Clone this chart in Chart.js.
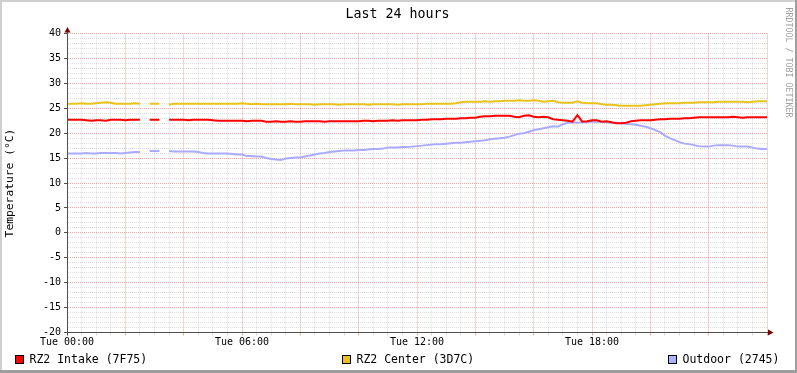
<!DOCTYPE html>
<html>
<head>
<meta charset="utf-8">
<script src="https://cdn.jsdelivr.net/npm/chart.js@4.4.1/dist/chart.umd.min.js"></script>
<style>
    html, body { margin: 0; padding: 0; background: #fff; }
    #wrap { width: 797px; height: 373px; }
</style>
</head>
<body>
<div id="wrap"><canvas id="tempChart" width="797" height="373"></canvas></div>
<script>
// 10-minute samples, Tue 00:00 .. Tue 24:00 (null = no data)
const intake = [
    22.7, 22.7, 22.7, 22.7, 22.6, 22.5, 22.6, 22.6, 22.5, 22.7, 22.7, 22.7, 22.6, 22.7, 22.7, 22.7,
    null, 22.7, 22.7, 22.7, null,
    22.7, 22.7, 22.7, 22.7, 22.6, 22.7, 22.7, 22.7, 22.7, 22.6,
    22.5, 22.5, 22.5, 22.5, 22.5, 22.5, 22.4, 22.5, 22.5, 22.5,
    22.3, 22.3, 22.4, 22.3, 22.3, 22.4, 22.3, 22.3,
    22.4, 22.4, 22.4, 22.4, 22.3, 22.4, 22.4, 22.4, 22.4, 22.4, 22.4, 22.4,
    22.5, 22.5, 22.4, 22.5, 22.5, 22.5, 22.6, 22.5, 22.6, 22.6, 22.6,
    22.6, 22.7, 22.7, 22.8, 22.8, 22.8, 22.9, 22.9, 22.9, 23.0, 23.0, 23.1, 23.1, 23.3, 23.4, 23.4, 23.5, 23.5, 23.5, 23.5,
    23.3, 23.2, 23.5, 23.6, 23.3, 23.2, 23.3, 23.2, 22.8, 22.7, 22.6, 22.5, 22.3,
    23.6,
    22.3, 22.4, 22.6, 22.6, 22.3, 22.4, 22.2, 22.0, 22.0, 22.1, 22.4, 22.5, 22.6, 22.6, 22.6, 22.7, 22.8, 22.8, 22.9, 22.9, 22.9, 23.0, 23.0,
    23.1, 23.2, 23.2, 23.2, 23.2, 23.2, 23.2, 23.2, 23.3, 23.2, 23.1, 23.2, 23.2, 23.2, 23.2, 23.2
];
const center = [
    25.9, 25.9, 25.9, 26.0, 25.9, 25.9, 26.0, 26.1, 26.2, 26.1, 25.9, 25.9, 25.9, 25.9, 26.0, 25.9,
    null, 25.9, 25.9, 25.9, null,
    25.7, 25.9, 25.9, 25.9, 25.9, 25.9, 25.9, 25.9, 25.9, 25.9,
    25.9, 25.9, 25.9, 25.9, 25.9, 26.0, 25.9, 25.8, 25.9, 25.8,
    25.8, 25.8, 25.8, 25.8, 25.8, 25.9, 25.8, 25.8,
    25.8, 25.8, 25.7, 25.8, 25.8, 25.8, 25.8, 25.7, 25.8, 25.8, 25.8, 25.8,
    25.8, 25.7, 25.8, 25.8, 25.8, 25.8, 25.8, 25.7, 25.8, 25.8, 25.8,
    25.8, 25.8, 25.9, 25.9, 25.9, 25.9, 25.9, 25.9, 26.0, 26.2, 26.3, 26.3, 26.3, 26.3, 26.4, 26.3, 26.4, 26.4, 26.5, 26.5,
    26.5, 26.6, 26.5, 26.5, 26.6, 26.5, 26.3, 26.4, 26.5, 26.2, 26.1, 26.1, 26.1,
    26.4,
    26.1, 26.0, 26.0, 26.0, 25.8, 25.7, 25.7, 25.6, 25.5, 25.5, 25.5, 25.5, 25.5, 25.6, 25.7, 25.8, 25.9, 26.0, 26.0, 26.0, 26.0, 26.1, 26.1,
    26.1, 26.2, 26.2, 26.2, 26.2, 26.3, 26.3, 26.3, 26.3, 26.3, 26.3, 26.2, 26.3, 26.4, 26.4, 26.4
];
const outdoor = [
    15.9, 15.9, 15.9, 15.9, 16.0, 15.9, 15.9, 16.0, 16.0, 16.0, 16.0, 15.9, 16.0, 16.1, 16.2, 16.2,
    null, 16.4, 16.4, 16.4, null,
    16.4, 16.3, 16.3, 16.3, 16.3, 16.3, 16.2, 16.0, 15.9, 15.9,
    15.9, 15.9, 15.9, 15.8, 15.7, 15.7, 15.4, 15.4, 15.3, 15.3,
    15.0, 14.8, 14.7, 14.6, 14.9, 15.0, 15.1, 15.1,
    15.3, 15.5, 15.7, 15.9, 16.0, 16.2, 16.3, 16.4, 16.5, 16.5, 16.5, 16.6,
    16.6, 16.7, 16.8, 16.8, 16.9, 17.1, 17.1, 17.1, 17.2, 17.2, 17.3,
    17.4, 17.5, 17.6, 17.7, 17.8, 17.8, 17.9, 18.0, 18.1, 18.1, 18.2, 18.3, 18.4, 18.5, 18.6, 18.8, 18.9, 19.0, 19.1, 19.3,
    19.6, 19.9, 20.0, 20.3, 20.6, 20.8, 21.0, 21.2, 21.4, 21.3, 21.8, 22.1, 22.2,
    22.1,
    22.2, 22.2, 22.3, 22.3, 22.3, 22.2, 22.1, 22.1, 22.0, 21.9, 21.8, 21.7, 21.5, 21.3, 21.0, 20.6, 20.2, 19.5, 19.0, 18.6, 18.2, 17.9, 17.8,
    17.6, 17.4, 17.3, 17.3, 17.5, 17.6, 17.6, 17.6, 17.5, 17.3, 17.3, 17.3, 17.1, 16.9, 16.8, 16.8
];
const seriesNames = ['RZ2 Intake (7F75)', 'RZ2 Center (3D7C)', 'Outdoor (2745)'];
const tickHours = [0, 6, 12, 18];
const tickLabels = ['Tue 00:00', 'Tue 06:00', 'Tue 12:00', 'Tue 18:00'];

const FONT = '"DejaVu Sans Mono", monospace';
const AXIS_COLOR = '#505050';
const GRID_MINOR = 'rgba(140,140,140,0.3)';
const GRID_MAJOR = 'rgba(222,80,80,0.5)';
const NONE = 'rgba(0,0,0,0)';
const COLORS = ['#ff0000', '#eac21c', '#aaaaff'];
const LEGEND_FILL = ['#ff0000', '#eac21c', '#b0b0ff'];

function toPoints(values) {
    return values.map((v, i) => ({ x: i / 6, y: v }));
}

function xGridColor(ctx) {
    if (!ctx.tick) return GRID_MINOR;
    const v = ctx.tick.value;
    if (v === 0) return NONE;
    return v % 2 === 0 ? GRID_MAJOR : GRID_MINOR;
}

function yGridColor(ctx) {
    if (!ctx.tick) return GRID_MINOR;
    const v = ctx.tick.value;
    if (v === -20) return NONE;
    return v % 5 === 0 ? GRID_MAJOR : GRID_MINOR;
}

// background, title, legend, watermark, arrows and frame
const rrdDecor = {
    id: 'rrdDecor',
    beforeDraw(chart) {
        const c = chart.ctx;
        c.save();
        c.fillStyle = '#ffffff';
        c.fillRect(0, 0, chart.width, chart.height);
        c.restore();
    },
    afterDraw(chart) {
        const c = chart.ctx;
        const a = chart.chartArea;
        const ax = Math.round(a.left) + 0.5;
        const ay = Math.round(a.bottom - 0.5) + 0.5;
        c.save();

        // axis extensions and arrows
        c.strokeStyle = AXIS_COLOR;
        c.lineWidth = 1;
        c.beginPath();
        c.moveTo(ax, ay + 3);
        c.lineTo(ax, a.top - 4);
        c.moveTo(ax - 3, ay);
        c.lineTo(a.right + 3, ay);
        c.stroke();
        c.fillStyle = '#7f0000';
        c.beginPath();
        c.moveTo(ax - 3, a.top - 1);
        c.lineTo(ax + 3, a.top - 1);
        c.lineTo(ax, a.top - 6.5);
        c.closePath();
        c.fill();
        c.beginPath();
        c.moveTo(a.right + 1, ay - 3);
        c.lineTo(a.right + 1, ay + 3);
        c.lineTo(a.right + 6.5, ay);
        c.closePath();
        c.fill();

        // title
        c.fillStyle = '#000';
        c.font = '13.3px ' + FONT;
        c.textAlign = 'center';
        c.textBaseline = 'alphabetic';
        c.fillText('Last 24 hours', 397.5, 18);

        // legend
        const markX = [15, 342, 668];
        c.font = '11.5px ' + FONT;
        c.textAlign = 'left';
        seriesNames.forEach((name, i) => {
            c.fillStyle = LEGEND_FILL[i];
            c.fillRect(markX[i], 355, 9, 9);
            c.strokeStyle = '#000';
            c.strokeRect(markX[i] + 0.5, 355.5, 8, 8);
            c.fillStyle = '#000';
            c.fillText(name, markX[i] + 14.5, 363);
        });

        // watermark
        c.save();
        c.translate(786, 62.5);
        c.rotate(Math.PI / 2);
        c.fillStyle = '#a0a0a0';
        c.font = '8.3px ' + FONT;
        c.textAlign = 'center';
        c.textBaseline = 'alphabetic';
        c.fillText('RRDTOOL / TOBI OETIKER', 0, 0);
        c.restore();

        // frame
        c.fillStyle = '#cfcfcf';
        c.fillRect(0, 0, chart.width, 2);
        c.fillRect(0, 0, 2, chart.height);
        c.fillStyle = '#9e9e9e';
        c.fillRect(chart.width - 2, 0, 2, chart.height);
        c.fillRect(0, chart.height - 3, chart.width, 3);
        c.restore();
    }
};

const ctx = document.getElementById('tempChart').getContext('2d');
new Chart(ctx, {
    type: 'line',
    data: {
        datasets: [
            { label: seriesNames[0], data: toPoints(intake), borderColor: COLORS[0], backgroundColor: COLORS[0] },
            { label: seriesNames[1], data: toPoints(center), borderColor: COLORS[1], backgroundColor: COLORS[1] },
            { label: seriesNames[2], data: toPoints(outdoor), borderColor: COLORS[2], backgroundColor: COLORS[2] }
        ]
    },
    options: {
        responsive: false,
        animation: false,
        devicePixelRatio: 1,
        spanGaps: false,
        elements: {
            line: { borderWidth: 2, tension: 0, fill: false },
            point: { radius: 0, hoverRadius: 0 }
        },
        layout: { padding: { left: 0, right: 30, top: 33.5, bottom: 0 } },
        plugins: {
            legend: { display: false },
            tooltip: { enabled: false }
        },
        scales: {
            x: {
                type: 'linear',
                min: 0,
                max: 24,
                afterFit: (s) => { s.height = 40.5; },
                ticks: {
                    stepSize: 0.5,
                    autoSkip: false,
                    maxRotation: 0,
                    minRotation: 0,
                    padding: 1,
                    color: '#000',
                    font: { family: FONT, size: 10 },
                    callback: (v) => {
                        const k = tickHours.indexOf(v);
                        return k >= 0 ? tickLabels[k] : '';
                    }
                },
                grid: { color: xGridColor, tickColor: xGridColor, tickLength: 3, lineWidth: 1 },
                border: { display: true, color: AXIS_COLOR, dash: [1, 1] }
            },
            y: {
                min: -20,
                max: 40,
                afterFit: (s) => { s.width = 67; },
                ticks: {
                    stepSize: 1,
                    autoSkip: false,
                    padding: 3,
                    color: '#000',
                    font: { family: FONT, size: 10 },
                    callback: (v) => (v % 5 === 0 ? String(v) : '')
                },
                grid: {
                    color: yGridColor,
                    tickColor: (c) => (c.tick && c.tick.value % 5 === 0 ? AXIS_COLOR : NONE),
                    tickLength: 3,
                    lineWidth: 1
                },
                border: { display: true, color: AXIS_COLOR, dash: [1, 1] },
                title: {
                    display: true,
                    text: 'Temperature (°C)',
                    color: '#000',
                    font: { family: FONT, size: 11.3, lineHeight: 1.2 },
                    padding: { top: 3.2, bottom: 0 }
                }
            }
        }
    },
    plugins: [rrdDecor]
});
</script>
</body>
</html>
